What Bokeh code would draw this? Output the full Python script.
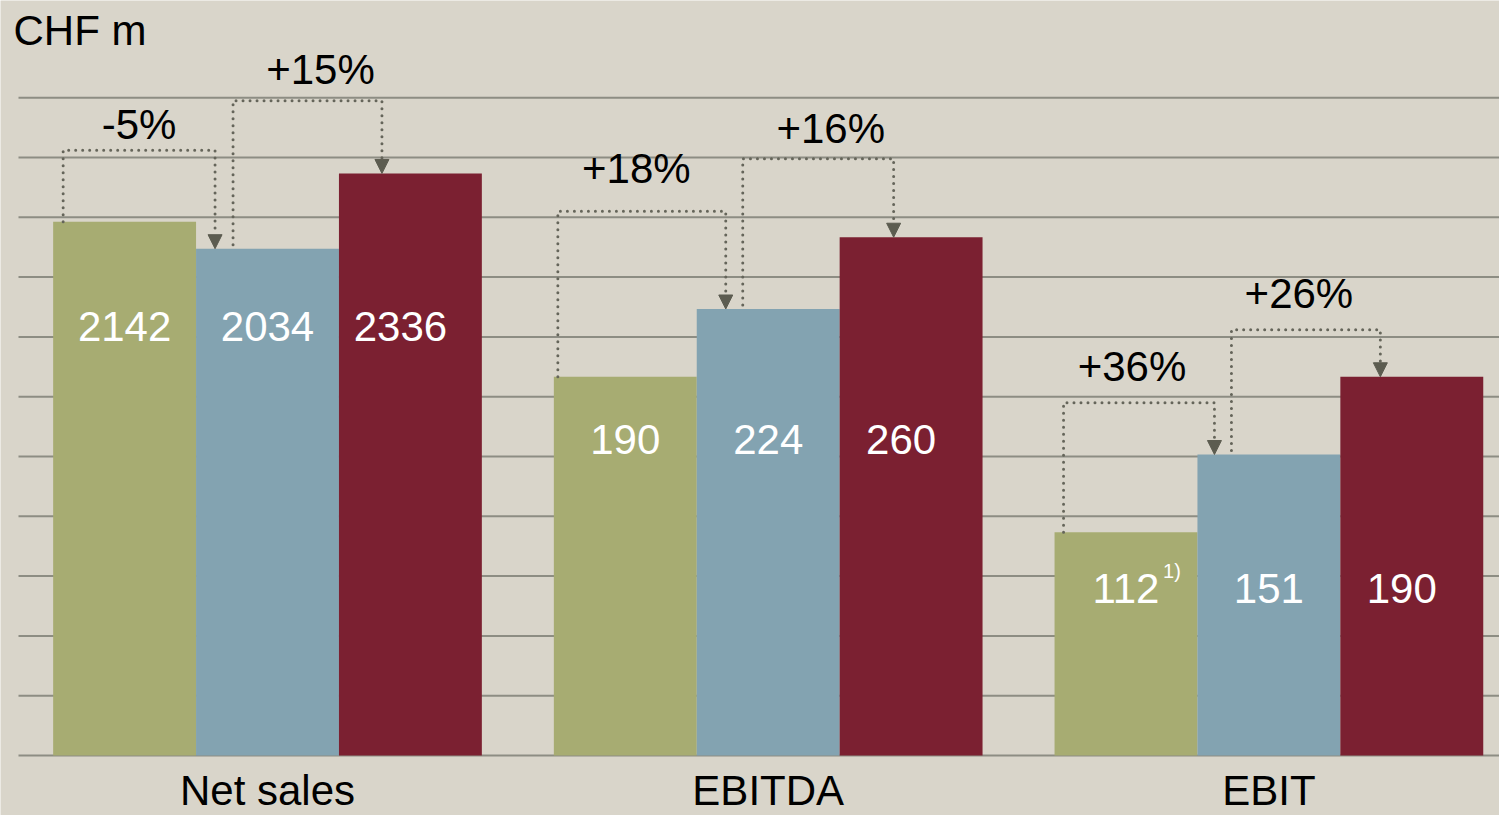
from bokeh.plotting import figure
from bokeh.models import ColumnDataSource, Range1d, Arrow, NormalHead
from bokeh.embed import file_html
from bokeh.resources import INLINE
from bokeh.core.properties import value

# ---------------- data ----------------
categories = ["Net sales", "EBITDA", "EBIT"]
values_first = [2142, 190, 112]
values_second = [2034, 224, 151]
values_third = [2336, 260, 190]
change_first_to_second = ["-5%", "+18%", "+36%"]
change_second_to_third = ["+15%", "+16%", "+26%"]
footnotes_first = ["", "", "1)"]
unit_label = "CHF m"
# display scale of each group: value per gridline step
units_per_grid = [240, 30, 30]
grid_steps = list(range(12))

# ---------------- layout / style ----------------
BG = "#D9D5CA"
COLORS = ["#A7AC72", "#83A3B1", "#7B2031"]
GRID_COLOR = "#8d8d83"
CONN_COLOR = "#65655a"
HEAD_COLOR = "#5c5c50"
FONT = "Liberation Sans"
PX = 500.7                 # pixels per group step
BAR_W = 142.9 / PX         # bar width in x units
GRID_PX = 59.8             # pixels per grid step

W, H = 1499, 815
GROUP0_PX = 267.0          # pixel position of first group centre
x0 = -GROUP0_PX / PX
x1 = x0 + W / PX
grid_x_start = (18 - GROUP0_PX) / PX
y_bottom_px = 60.0
y0 = -y_bottom_px / GRID_PX
y1 = y0 + H / GRID_PX

# connector layout (pixel offsets from bar left edges, levels in grid units)
a1_left_dx = [10, 4, 9]
a1_right_dx = [19, 29, 17]
a1_level = [10.12, 9.10, 5.90]
a1_label_dx = [0, -5.5, -7]
a1_label_y = [10.552, 9.816, 6.513]
a2_left_dx = [37, 46, 34]
a2_right_dx = [43, 54, 40]
a2_level = [10.95, 9.98, 7.12]
a2_label_dx = [13, 12.5, -7]
a2_label_y = [11.472, 10.485, 7.726]
value_label_y = [7.174, 5.284, 2.793]
value_label_dx = [0, 0, -10]
category_label_y = -0.585
unit_label_y = 12.132
unit_label_x = (13 - GROUP0_PX) / PX
HEAD = 14

p = figure(width=W, height=H, output_backend="svg", toolbar_location=None,
           x_range=Range1d(x0, x1), y_range=Range1d(y0, y1),
           x_axis_location=None, y_axis_location=None,
           min_border_left=0, min_border_right=0, min_border_top=0,
           min_border_bottom=0)
p.background_fill_color = BG
p.border_fill_color = BG
p.outline_line_color = None
p.xgrid.visible = False
p.ygrid.visible = False

# horizontal gridlines
p.segment(x0=[grid_x_start] * len(grid_steps), y0=grid_steps,
          x1=[x1] * len(grid_steps), y1=grid_steps,
          line_color=GRID_COLOR, line_width=2)

series = [values_first, values_second, values_third]
bx, btop, bcol = [], [], []
lx, ly, ltxt = [], [], []
for g in range(len(categories)):
    for k, vals in enumerate(series):
        xc = g + (k - 1) * BAR_W
        bx.append(xc)
        btop.append(vals[g] / units_per_grid[g])
        bcol.append(COLORS[k])
        lx.append(xc + value_label_dx[k] / PX)
        ly.append(value_label_y[g])
        ltxt.append(str(vals[g]))

p.vbar(x=bx, top=btop, width=BAR_W, bottom=0, fill_color=bcol, line_color=None)

p.text(x=lx, y=ly, text=ltxt, text_color="white", text_font=value(FONT),
       text_font_size="42px", text_align="center", text_baseline="middle")

# footnote
fx, fy, ft = [], [], []
for g in range(len(categories)):
    if footnotes_first[g]:
        fx.append(g - BAR_W + 46 / PX)
        fy.append(value_label_y[g] + 0.29)
        ft.append(footnotes_first[g])
p.text(x=fx, y=fy, text=ft, text_color="white", text_font=value(FONT),
       text_font_size="20px", text_align="center", text_baseline="middle")

# category labels
p.text(x=list(range(len(categories))), y=[category_label_y] * len(categories),
       text=categories, text_color="black", text_font=value(FONT),
       text_font_size="42px", text_align="center", text_baseline="middle")

# connectors
cxs, cys = [], []
ax, ay_s, ay_e = [], [], []
tx, ty, tt = [], [], []
for g in range(len(categories)):
    left = [g + (k - 1.5) * BAR_W for k in range(3)]
    h = [series[k][g] / units_per_grid[g] for k in range(3)]
    for (src, dst, ldx, rdx, lev, labdx, laby, txt) in [
        (0, 1, a1_left_dx[g], a1_right_dx[g], a1_level[g], a1_label_dx[g], a1_label_y[g],
         change_first_to_second[g]),
        (1, 2, a2_left_dx[g], a2_right_dx[g], a2_level[g], a2_label_dx[g], a2_label_y[g],
         change_second_to_third[g]),
    ]:
        xl = left[src] + ldx / PX
        xr = left[dst] + rdx / PX
        y_from = h[src] + (4 / GRID_PX if src == 1 else 0)
        y_to = h[dst] + HEAD / GRID_PX
        cxs.append([xl, xl, xr, xr])
        cys.append([y_from, lev, lev, y_to])
        ax.append(xr)
        ay_s.append(h[dst] + 0.5)
        ay_e.append(h[dst])
        tx.append((xl + xr) / 2 + labdx / PX)
        ty.append(laby)
        tt.append(txt)

p.multi_line(xs=cxs, ys=cys, line_color=CONN_COLOR, line_width=3,
             line_dash="0 7", line_cap="round")
arrow_src = ColumnDataSource(dict(x=ax, ys=ay_s, ye=ay_e))
p.add_layout(Arrow(end=NormalHead(size=HEAD, fill_color=HEAD_COLOR, line_color=HEAD_COLOR,
                                  line_width=1),
                   x_start="x", y_start="ys", x_end="x", y_end="ye",
                   source=arrow_src, line_color=None))

p.text(x=tx, y=ty, text=tt, text_color="black", text_font=value(FONT),
       text_font_size="42px", text_align="center", text_baseline="middle")

# unit label
p.text(x=[unit_label_x], y=[unit_label_y], text=[unit_label], text_color="black",
       text_font=value(FONT), text_font_size="42px", text_align="left",
       text_baseline="middle")

html = file_html(p, INLINE)
html = html.replace("<body>", '<body style="background-color:#D9D5CA;">', 1)
open("out.html", "w").write(html)
